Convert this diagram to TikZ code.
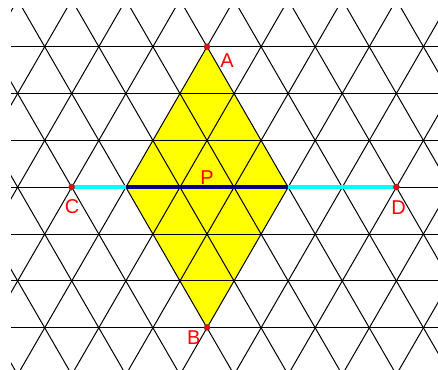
\documentclass[tikz,border=0pt]{standalone}
\usepackage{fontspec}
\setmainfont{Liberation Sans}
\definecolor{navy}{RGB}{0,0,128}
\definecolor{pcyan}{RGB}{0,255,255}
\definecolor{pyellow}{RGB}{255,255,0}
\definecolor{pred}{RGB}{255,0,0}
\begin{document}
\begin{tikzpicture}[x=1pt,y=-1pt,
  gridline/.style={black,line width=1pt},
  dot/.style={circle,fill=pred,draw=black!70,line width=0.4pt,inner sep=0pt,minimum size=6pt},
  spot/.style={inner sep=0pt,minimum size=0pt},
  lbl/.style={text=pred,font=\fontsize{20}{20}\selectfont,inner sep=0pt},
  segcyan/.style={pcyan,line width=4.5pt},
  segnavy/.style={navy,line width=4.5pt}]
\useasboundingbox (0,0) rectangle (438,369);
\def\s{54.1}
\def\h{46.85}
% key points
\coordinate (L) at (125.85,187.05);
\coordinate (R) at (288.15,187.05);
\coordinate (Ptop) at (207,46.7);
\coordinate (Pbot) at (207,327.4);
% yellow rhombus
\fill[pyellow] (Ptop) -- (L) -- (Pbot) -- (R) -- cycle;
% triangular grid
\begin{scope}
  \clip (11,9) rectangle (438,369);
  \foreach \k in {-1,...,7}
    \draw[gridline] (0,46.7+\k*\h) -- (438,46.7+\k*\h);
  \foreach \k in {-12,...,12} {
    \draw[gridline] (207+\k*\s-\s,46.7-2*\h) -- (207+\k*\s+4*\s,46.7+8*\h);
    \draw[gridline] (207+\k*\s+\s,46.7-2*\h) -- (207+\k*\s-4*\s,46.7+8*\h);
  }
\end{scope}
% nodes
\node[dot] (A) at (Ptop) {};
\node[dot] (B) at (Pbot) {};
\node[dot] (C) at (71.75,187.05) {};
\node[dot] (D) at (396.35,187.05) {};
\node[spot] (Lv) at (L) {};
\node[spot] (Rv) at (R) {};
% segments
\draw[segcyan] (C.center) -- (D.center);
\draw[segnavy] (Lv.center) -- (Rv.center);
% redraw dots on top
\node[dot] at (C.center) {};
\node[dot] at (D.center) {};
% labels
\node[lbl] (lA) at (227,61) {A};
\node[lbl] (lB) at (193.7,338) {B};
\node[lbl] (lC) at (72,207) {C};
\node[lbl] (lD) at (398.5,207.5) {D};
\node[lbl] (lP) at (207,177.3) {P};
\end{tikzpicture}
\end{document}
